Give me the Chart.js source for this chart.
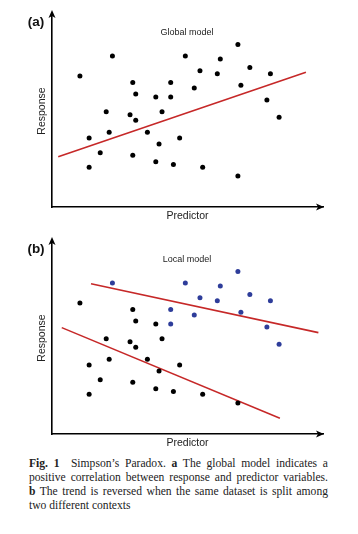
<!DOCTYPE html>
<html>
<head>
<meta charset="utf-8">
<script src="https://cdn.jsdelivr.net/npm/chart.js@4.4.1/dist/chart.umd.min.js"></script>
<style>
  body { margin: 0; background: #fff; width: 358px; height: 534px; overflow: hidden; position: relative; }
  .panel { position: absolute; left: 0; width: 358px; height: 226px; }
  #caption {
    position: absolute; left: 29px; top: 457px; width: 299px;
    font-family: "Liberation Serif", "DejaVu Serif", serif; font-size: 11.6px; line-height: 14px; color: #222;
  }
  #caption div { text-align: justify; text-align-last: justify; white-space: nowrap; }
  #caption div.last { text-align-last: left; }
</style>
</head>
<body>
<div class="panel" style="top:0"><canvas id="chart-a" width="358" height="226"></canvas></div>
<div class="panel" style="top:227px"><canvas id="chart-b" width="358" height="226"></canvas></div>
<div id="caption">
  <div><b>Fig. 1</b>&nbsp; Simpson’s Paradox. <b>a</b> The global model indicates a</div>
  <div>positive correlation between response and predictor variables.</div>
  <div><b>b</b> The trend is reversed when the same dataset is split among</div>
  <div class="last">two different contexts</div>
</div>
<script>
Chart.defaults.font.family = "'Liberation Sans', Arial, sans-serif";
Chart.defaults.animation = false;

// observations (same dataset in both panels)
const predictor = [1.03, 2.23, 1.37, 1.37, 1.78, 2.00, 2.11, 2.98, 3.09, 2.88, 3.09, 2.98, 3.52, 3.83, 4.06, 3.95, 3.83,
                   4.38, 4.38, 4.71, 4.48, 4.92, 5.25, 5.46, 5.56, 6.10, 6.21, 6.86, 6.97, 6.86, 7.30, 7.93, 8.06, 8.38];
const response  = [6.82, 7.86, 3.59, 2.07, 2.83, 4.96, 3.89, 6.49, 5.89, 4.81, 4.52, 2.69, 3.89, 5.73, 4.96, 3.28, 2.36,
                   6.49, 5.73, 3.59, 2.22, 7.86, 6.20, 7.10, 2.07, 6.94, 7.71, 8.47, 6.34, 1.61, 7.26, 5.57, 6.94, 4.67];
// context of each observation in the local model (1 = second context, drawn blue)
const context   = [0, 1, 0, 0, 0, 0, 0, 0, 0, 0, 0, 0, 0, 0, 0, 0, 0,
                   1, 1, 0, 0, 1, 1, 1, 0, 1, 1, 1, 1, 0, 1, 1, 1, 1];

// fitted trend lines: [x1, y1, x2, y2]
const globalFit = [0.23, 2.62, 9.37, 7.02];
const localFitA = [0.36, 5.54, 8.41, 0.82];
const localFitB = [1.44, 7.83, 9.83, 5.28];

const BLACK = '#000000';
const BLUE = '#2e3d9a';
const RED = '#c62828';

function points(filter) {
    return predictor.map((x, i) => ({ x: x, y: response[i], c: context[i] })).filter(filter);
}

function fitLine(f) {
    return {
        data: [{ x: f[0], y: f[1] }, { x: f[2], y: f[3] }],
        showLine: true,
        borderColor: RED,
        borderWidth: 1.6,
        pointRadius: 0,
        order: 1
    };
}

function dots(data, color) {
    return { data: data, backgroundColor: color, borderWidth: 0, pointRadius: 2.5, order: 0 };
}

// labels, model name and arrow heads on the axes
const decorations = {
    id: 'decorations',
    afterDraw(chart, args, opts) {
        const ctx = chart.ctx;
        const a = chart.chartArea;
        ctx.save();
        ctx.fillStyle = '#000';
        ctx.beginPath();
        ctx.moveTo(a.left, a.top - 5);
        ctx.lineTo(a.left - 3.5, a.top + 3);
        ctx.lineTo(a.left, a.top + 1);
        ctx.lineTo(a.left + 3.5, a.top + 3);
        ctx.closePath();
        ctx.fill();
        ctx.beginPath();
        ctx.moveTo(a.right + 1, a.bottom);
        ctx.lineTo(a.right - 7, a.bottom - 3.5);
        ctx.lineTo(a.right - 5, a.bottom);
        ctx.lineTo(a.right - 7, a.bottom + 3.5);
        ctx.closePath();
        ctx.fill();

        ctx.textAlign = 'center';
        ctx.textBaseline = 'middle';
        ctx.font = "9px 'Liberation Sans', Arial, sans-serif";
        ctx.fillStyle = '#222';
        ctx.fillText(opts.model, 187, 33);
        ctx.font = "bold 13.5px 'Liberation Sans', Arial, sans-serif";
        ctx.fillStyle = '#111';
        ctx.fillText(opts.tag, 36, 22);
        ctx.restore();
    }
};

function makeChart(id, datasets, tag, model) {
    new Chart(document.getElementById(id), {
        type: 'scatter',
        data: { datasets: datasets },
        options: {
            responsive: false,
            layout: { padding: { top: 15, right: 35, left: 0, bottom: 0 } },
            plugins: {
                legend: { display: false },
                tooltip: { enabled: false },
                decorations: { tag: tag, model: model }
            },
            scales: {
                x: {
                    min: 0, max: 10,
                    ticks: { display: false },
                    grid: { display: false },
                    border: { display: true, color: '#000', width: 1.6 },
                    title: { display: true, text: 'Predictor', color: '#222', font: { size: 10.5 }, padding: { top: 0, bottom: 4 } },
                    afterFit(scale) { scale.height = 19; }
                },
                y: {
                    min: 0, max: 10,
                    ticks: { display: false },
                    grid: { display: false },
                    border: { display: true, color: '#000', width: 1.6 },
                    title: { display: true, text: 'Response', color: '#222', font: { size: 10.5 }, padding: { top: 36, bottom: 0 } },
                    afterFit(scale) { scale.width = 52; }
                }
            }
        },
        plugins: [decorations]
    });
}

makeChart('chart-a', [
    dots(points(() => true), BLACK),
    fitLine(globalFit)
], '(a)', 'Global model');

makeChart('chart-b', [
    dots(points(p => p.c === 0), BLACK),
    dots(points(p => p.c === 1), BLUE),
    fitLine(localFitA),
    fitLine(localFitB)
], '(b)', 'Local model');
</script>
</body>
</html>
